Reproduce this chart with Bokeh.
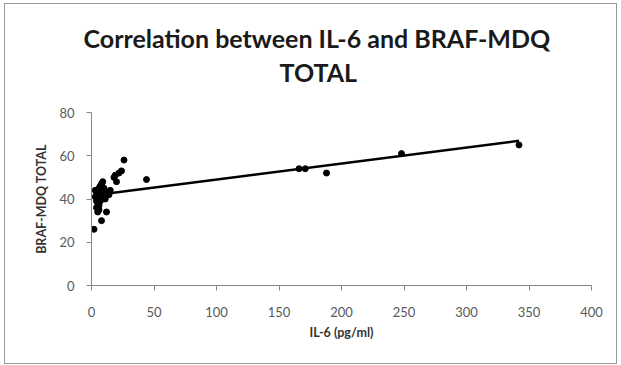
import numpy as np
from bokeh.plotting import figure
from bokeh.models import Range1d, Title, FixedTicker
from bokeh.embed import file_html
from bokeh.resources import INLINE

# Data
il6 = [3, 3, 4, 4, 4, 5, 5, 5, 5, 6, 6, 6, 7, 7, 7, 8, 8, 9, 9, 10, 10, 11, 12, 13, 14, 15,
       12, 8, 2,
       18, 20, 19, 22, 24, 26, 44,
       166, 171, 188, 248, 342]
braf = [41, 44, 36, 39, 43, 34, 38, 40, 42, 35, 37, 45, 39, 41, 46, 43, 47, 44, 48, 42, 45, 40, 42, 43, 42, 44,
        34, 30, 26,
        50, 48, 51, 52, 53, 58, 49,
        54, 54, 52, 61, 65]

x_ticks = [0, 50, 100, 150, 200, 250, 300, 350, 400]
y_ticks = [0, 20, 40, 60, 80]
title_lines = ["Correlation between  IL-6 and BRAF-MDQ", "TOTAL"]
x_title = "IL-6 (pg/ml)"
y_title = "BRAF-MDQ TOTAL"

FONT = "Lato"
AX = "#868686"
TXT = "#595959"

p = figure(width=613, height=361, output_backend="svg", toolbar_location=None,
           x_range=Range1d(0, 400), y_range=Range1d(0, 80),
           min_border_left=86, min_border_right=27, min_border_top=108, min_border_bottom=80)
p.styles = {"border": "1px solid #9a9a9a", "margin-left": "4px", "margin-top": "3px"}
p.outline_line_color = None
p.xgrid.grid_line_color = None
p.ygrid.grid_line_color = None
p.background_fill_color = "white"
p.border_fill_color = "white"

for ax in (p.xaxis[0], p.yaxis[0]):
    ax.axis_line_color = AX
    ax.major_tick_line_color = AX
    ax.minor_tick_line_color = None
    ax.major_tick_out = 5
    ax.major_tick_in = 0
    ax.major_label_text_font = FONT
    ax.major_label_text_font_size = "13px"
    ax.major_label_text_color = TXT
    ax.axis_label_text_font = FONT
    ax.axis_label_text_font_style = "bold"
    ax.axis_label_text_font_size = "12.5px"
    ax.axis_label_text_color = "#333333"

p.xaxis.ticker = FixedTicker(ticks=x_ticks)
p.yaxis.ticker = FixedTicker(ticks=y_ticks)
p.xaxis.major_label_standoff = 16
p.yaxis.major_label_standoff = 12
p.xaxis.axis_label = x_title
p.yaxis.axis_label = y_title
p.xaxis.axis_label_standoff = 5
p.yaxis.axis_label_standoff = 7

# trend line (least squares) from the data
slope, intercept = np.polyfit(il6, braf, 1)
xs = [min(il6), max(il6)]
p.line(xs, [intercept + slope * v for v in xs], line_color="black", line_width=2.5)

p.scatter(il6, braf, size=6, color="black")

# two-line title: p.title is the outer (first) line; added Titles stack from the frame outward
title_style = dict(text_font=FONT, text_font_style="bold", text_font_size="25px",
                   text_color="#1a1a1a", align="left")
p.title.text = title_lines[0]
p.title.offset = -8
p.title.standoff = 4
for k, v in title_style.items():
    setattr(p.title, k, v)
p.add_layout(Title(text=" ", offset=0, standoff=-6, **title_style), "above")   # spacer next to frame
p.add_layout(Title(text=title_lines[1], offset=188, standoff=0, **title_style), "above")

open("out.html", "w").write(file_html(p, INLINE))
